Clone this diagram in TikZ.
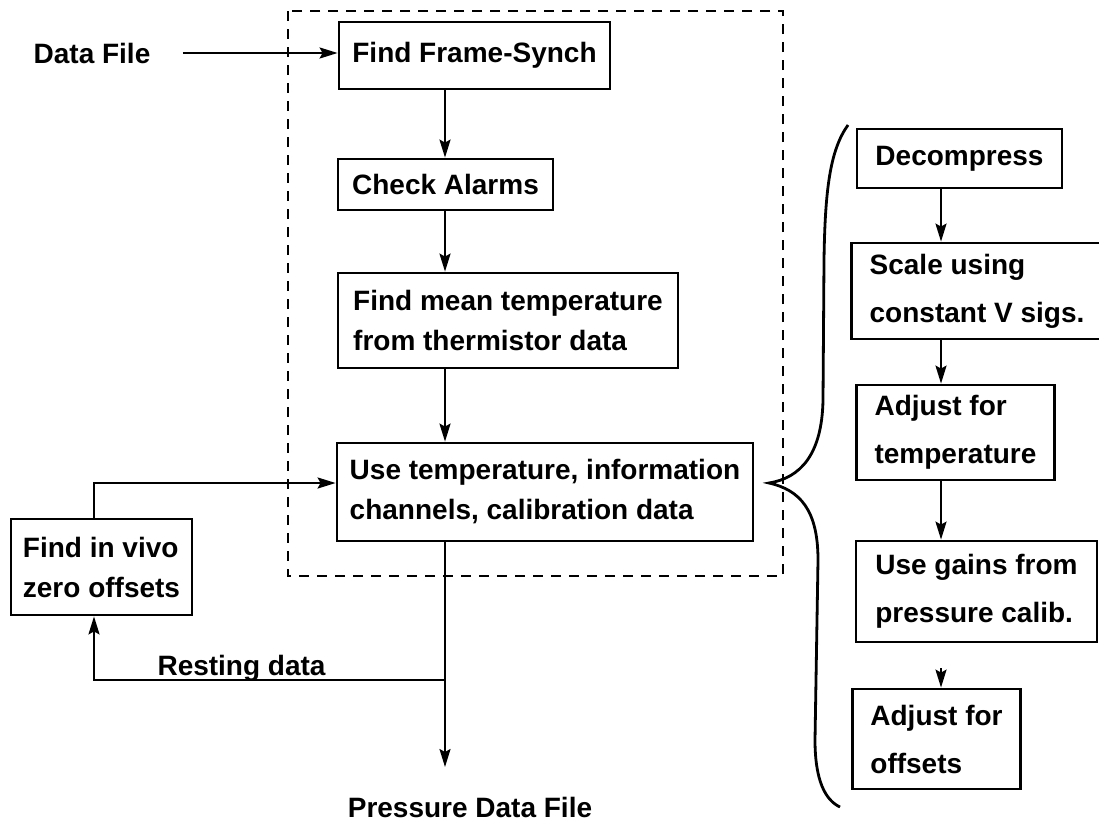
\documentclass[tikz,border=0pt]{standalone}
\usepackage{fontspec}
\setmainfont{Liberation Sans}
\usetikzlibrary{arrows.meta, calc}

\tikzset{
    box/.style={draw, line width=2.8pt, inner xsep=11pt, inner ysep=4pt, align=left,
        font=\fontsize{28}{40}\selectfont\bfseries},
    rbox/.style={box, inner xsep=18pt, font=\fontsize{28}{48}\selectfont\bfseries},
    lbl/.style={font=\fontsize{28}{32}\selectfont\bfseries},
    flow/.style={->, line width=2.2pt},
}

\begin{document}
\begin{tikzpicture}[x=1pt, y=-1pt, >={Stealth[length=18pt, width=11pt, inset=3pt]}]
    \useasboundingbox (0,0) rectangle (1099,835);

    % 破線の枠
    \draw[line width=2.4pt, dash pattern=on 10pt off 8pt] (288,11) rectangle (783,576);

    % 左側の処理の流れ
    \node[lbl] (datafile) at (92,53) {Data File};
    \node[box, minimum width=271, minimum height=67] (sync) at (474.5,55.5) {Find Frame-Synch};
    \node[box, minimum width=215, minimum height=51] (alarms) at (445.5,184.5) {Check Alarms};
    \node[box, minimum width=340, minimum height=95] (mean) at (508,320.5)
        {Find mean temperature\\from thermistor data};
    \node[box, minimum width=416, minimum height=98] (usetemp) at (545,492)
        {Use temperature, information\\channels, calibration data};
    \node[box, minimum width=181, minimum height=96] (invivo) at (101.5,567)
        {Find in vivo\\zero offsets};
    \node[lbl, anchor=base west] (resting) at (154,675) {Resting data};
    \node[lbl] (pressure) at (470,807) {Pressure Data File};

    \coordinate (lcol) at (445,0);
    \coordinate (fb) at (94,483);
    \coordinate (split) at (445,680);
    \coordinate (outend) at (445,767);

    \draw[flow] ([xshift=29pt]datafile.east) -- (datafile.east -| sync.west);
    \draw[flow] (lcol |- sync.south) -- (lcol |- alarms.north);
    \draw[flow] (lcol |- alarms.south) -- (lcol |- mean.north);
    \draw[flow] (lcol |- mean.south) -- (lcol |- usetemp.north);
    \draw[flow] (lcol |- usetemp.south) -- (outend);

    % 静止データのフィードバック
    \draw[flow] (split) -- (fb |- split) -- (fb |- invivo.south);
    \draw[flow] (fb |- invivo.north) -- (fb) -- (fb -| usetemp.west);

    % 中括弧
    \draw[line width=2.8pt]
        (848,125) .. controls (830,150) and (825,190) .. (824,260)
        -- (823,400) .. controls (822,455) and (800,478) .. (769,483)
        .. controls (800,490) and (818,510) .. (818,560)
        -- (815,740) .. controls (815,780) and (825,800) .. (840,807);

    % 右側の詳細
    \node[rbox, minimum width=205, minimum height=59] (decomp) at (959.5,158.5) {Decompress};
    \node[rbox, minimum width=240, minimum height=96] (scale) at (977,291)
        {Scale using\\constant V sigs.};
    \node[rbox, minimum width=195, minimum height=95] (adjtemp) at (955.5,432.5)
        {Adjust for\\temperature};
    \node[rbox, minimum width=241, minimum height=101] (gains) at (976.5,591.5)
        {Use gains from\\pressure calib.};
    \node[rbox, minimum width=163, minimum height=100] (offsets) at (936.5,739)
        {Adjust for\\offsets};

    \coordinate (rcol) at (941,0);
    \draw[flow] (rcol |- decomp.south) -- (rcol |- scale.north);
    \draw[flow] (rcol |- scale.south) -- (rcol |- adjtemp.north);
    \draw[flow] (rcol |- adjtemp.south) -- (rcol |- gains.north);
    \draw[flow] ($(rcol |- gains.south)+(0,25)$) -- (rcol |- offsets.north);

\end{tikzpicture}
\end{document}
